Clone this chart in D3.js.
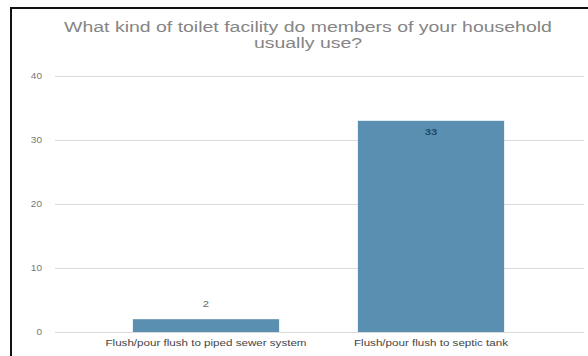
<!DOCTYPE html>
<html>
<head>
<meta charset="utf-8">
<script src="https://cdn.jsdelivr.net/npm/d3@7"></script>
<style>
  html, body { margin: 0; padding: 0; background: #fff; }
  svg { display: block; }
</style>
</head>
<body>
<div id="chart"></div>
<script>
// Survey answers and counts
const categories = ["Flush/pour flush to piped sewer system", "Flush/pour flush to septic tank"];
const counts = [2, 33];
const yTicks = [0, 10, 20, 30, 40];
const titleLines = ["What kind of toilet facility do members of your household", "usually use?"];

const W = 588, H = 356;
const FONT = "Liberation Sans, Arial, sans-serif";

// widen glyphs horizontally by a fixed factor
function widen(sel, k) {
  sel.each(function () {
    const len = this.getComputedTextLength();
    d3.select(this).attr("textLength", len * k).attr("lengthAdjust", "spacingAndGlyphs");
  });
}

const svg = d3.select("#chart").append("svg").attr("width", W).attr("height", H);

// outer frame
svg.append("rect")
  .attr("x", 11).attr("y", 8).attr("width", W - 10).attr("height", H)
  .attr("fill", "#fff").attr("stroke", "#111").attr("stroke-width", 2);

const y = d3.scaleLinear().domain([0, 40]).range([332, 76]);
const x = d3.scaleBand().domain(categories).range([93.5, 543.5])
  .paddingInner(0.35).paddingOuter(0.175);

// title
svg.append("g").selectAll("text").data(titleLines).join("text")
  .attr("x", 308).attr("y", (d, i) => 32 + i * 16)
  .attr("text-anchor", "middle")
  .attr("font-family", FONT)
  .attr("font-size", 14)
  .attr("fill", "#858585")
  .text(d => d)
  .call(widen, 1.39);

// y axis with gridlines
const yAxis = d3.axisLeft(y).tickValues(yTicks).tickSize(-(584 - 55)).tickPadding(13);
const ga = svg.append("g").attr("transform", "translate(55,0)").call(yAxis);
ga.select(".domain").remove();
ga.selectAll(".tick line").attr("stroke", "#dadada");
ga.selectAll(".tick text")
  .attr("font-family", FONT)
  .attr("font-size", 8.5).attr("fill", "#777")
  .call(widen, 1.18);

// bars
svg.append("g").selectAll("rect").data(counts).join("rect")
  .attr("x", (d, i) => x(categories[i]))
  .attr("width", x.bandwidth())
  .attr("y", d => y(d))
  .attr("height", d => y(0) - y(d))
  .attr("fill", "#5a8fb1");

// value labels: above short bars, inside tall bars
const inside = d => y(0) - y(d) > 30;
svg.append("g").selectAll("text").data(counts).join("text")
  .attr("x", (d, i) => x(categories[i]) + x.bandwidth() / 2)
  .attr("y", d => (inside(d) ? y(d) + 14 : y(d) - 12))
  .attr("text-anchor", "middle")
  .attr("font-family", FONT)
  .attr("font-size", 9.5)
  .attr("font-weight", d => (inside(d) ? "bold" : "normal"))
  .attr("fill", d => (inside(d) ? "#1f4a68" : "#666"))
  .text(d => d)
  .call(widen, 1.18);

// category labels
const xAxis = d3.axisBottom(x).tickSize(0).tickPadding(7);
const gx = svg.append("g").attr("transform", "translate(0,332)").call(xAxis);
gx.select(".domain").remove();
gx.selectAll(".tick text")
  .attr("font-family", FONT)
  .attr("font-size", 9.5).attr("fill", "#444")
  .call(widen, 1.22);
</script>
</body>
</html>
